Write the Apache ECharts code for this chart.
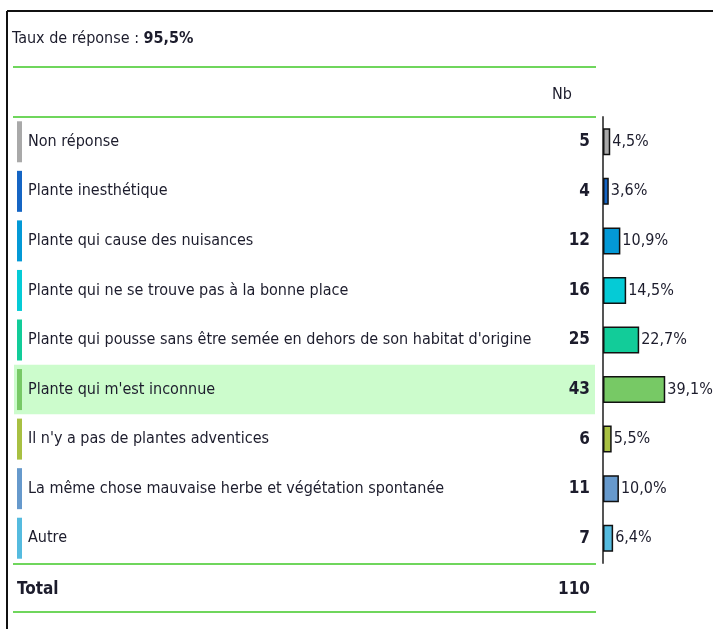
<!DOCTYPE html>
<html>
<head>
<meta charset="utf-8">
<title>Taux de réponse</title>
<script src="https://cdn.jsdelivr.net/npm/echarts@6/dist/echarts.min.js"></script>
<style>
  html, body { margin: 0; padding: 0; background: #fff; }
  #main { width: 713px; height: 629px; }
</style>
</head>
<body>
<div id="main"></div>
<script>
// données
var categories = [
  "Non réponse",
  "Plante inesthétique",
  "Plante qui cause des nuisances",
  "Plante qui ne se trouve pas à la bonne place",
  "Plante qui pousse sans être semée en dehors de son habitat d'origine",
  "Plante qui m'est inconnue",
  "Il n'y a pas de plantes adventices",
  "La même chose mauvaise herbe et végétation spontanée",
  "Autre"
];
var counts = [5, 4, 12, 16, 25, 43, 6, 11, 7];
var percents = ["4,5%", "3,6%", "10,9%", "14,5%", "22,7%", "39,1%", "5,5%", "10,0%", "6,4%"];
var total = 110;
var responseRate = "95,5%";
var highlighted = 5; // ligne surlignée

var colors = ["#a9a9a9", "#1565c4", "#0399d6", "#05cbd6", "#12cc99", "#77c965", "#a8c042", "#6699cc", "#55bbdf"];

var FONT = "'Liberation Sans Narrow', 'DejaVu Sans Condensed', 'Arial Narrow', sans-serif";
var FS = 16;
var TXT = "#1c1c2c";
var GREEN = "#6fd65c";

var rich = { t: { fontFamily: FONT, fontSize: FS, color: TXT, padding: [0, 0, 0, 6] } };
colors.forEach(function (c, i) {
  rich["m" + i] = { width: 5, height: 41, backgroundColor: c };
});

var splitColors = categories.map(function (c, i) {
  return i === highlighted ? "#ccfccc" : "rgba(0,0,0,0)";
});

function hline(y) {
  return { type: "line", shape: { x1: 13, y1: y, x2: 596, y2: y }, style: { stroke: GREEN, lineWidth: 2 } };
}

var myChart = echarts.init(document.getElementById("main"));
var option = {
  animation: false,
  grid: [
    { left: 14, top: 117, width: 581, height: 446 },
    { left: 603, top: 117, width: 110, height: 446 }
  ],
  xAxis: [
    { gridIndex: 0, type: "value", show: false, min: 0, max: 1 },
    { gridIndex: 1, type: "value", show: false, min: 0, max: 76 }
  ],
  yAxis: [
    {
      gridIndex: 0, type: "category", inverse: true, data: categories, position: "left",
      axisLine: { show: false }, axisTick: { show: false },
      splitArea: { show: true, areaStyle: { color: splitColors } },
      axisLabel: {
        inside: true, margin: 3,
        formatter: function (v, i) { return "{m" + i + "|}{t|" + v + "}"; },
        rich: rich
      }
    },
    {
      gridIndex: 0, type: "category", inverse: true, data: counts, position: "right",
      axisLine: { show: false }, axisTick: { show: false },
      axisLabel: { inside: true, margin: 5, fontFamily: FONT, fontSize: 17, fontWeight: "bold", color: TXT }
    },
    {
      gridIndex: 1, type: "category", inverse: true, data: categories,
      axisLine: { show: true, lineStyle: { color: "#555", width: 2 } },
      axisTick: { show: false }, axisLabel: { show: false }
    }
  ],
  series: [
    {
      type: "bar", xAxisIndex: 1, yAxisIndex: 2, barWidth: 27,
      data: counts.map(function (v, i) {
        return { value: v, itemStyle: { color: colors[i] } };
      }),
      itemStyle: { borderColor: "#111", borderWidth: 1.5 },
      label: {
        show: true, position: "right", distance: 2,
        fontFamily: FONT, fontSize: FS, color: TXT,
        formatter: function (p) { return percents[p.dataIndex]; }
      }
    }
  ],
  graphic: [
    // cadre
    { type: "line", shape: { x1: 7, y1: 11, x2: 713, y2: 11 }, style: { stroke: "#111", lineWidth: 2 } },
    { type: "line", shape: { x1: 7, y1: 11, x2: 7, y2: 629 }, style: { stroke: "#111", lineWidth: 2 } },
    {
      type: "text", left: 12, top: 31,
      style: {
        text: "{a|Taux de réponse : }{b|" + responseRate + "}",
        rich: {
          a: { fontFamily: FONT, fontSize: FS, fill: TXT },
          b: { fontFamily: FONT, fontSize: FS, fontWeight: "bold", fill: TXT }
        }
      }
    },
    hline(67),
    { type: "text", x: 572, y: 95, style: { text: "Nb", fontFamily: FONT, fontSize: FS, fill: TXT, align: "right", verticalAlign: "middle" } },
    hline(117),
    hline(564),
    { type: "text", x: 17, y: 590, style: { text: "Total", fontFamily: FONT, fontSize: 17, fontWeight: "bold", fill: TXT, verticalAlign: "middle" } },
    { type: "text", x: 590, y: 590, style: { text: String(total), fontFamily: FONT, fontSize: 17, fontWeight: "bold", fill: TXT, align: "right", verticalAlign: "middle" } },
    hline(612)
  ]
};
window.onresize = myChart.resize;
myChart.setOption(option);
</script>
</body>
</html>
